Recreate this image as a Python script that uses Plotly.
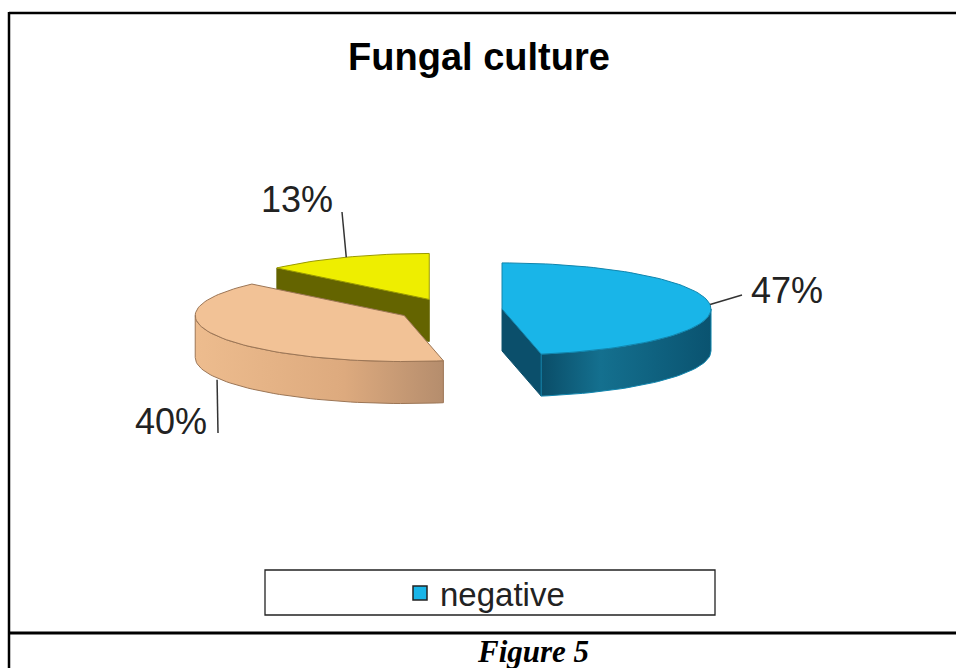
import numpy as np
import plotly.graph_objects as go

# ---- data ----
labels = ["negative", "Category 2", "Category 3"]
values = [47, 40, 13]
title_text = "Fungal culture"
caption_text = "Figure 5"

# ---- style ----
top_colors = ["#19B5E8", "#F2C296", "#EEEE00"]
edge_colors = ["#1185AD", "#9C7656", "#9A9A00"]
wall_scales = [
    [[0, "#0A4D68"], [0.35, "#14708F"], [1, "#0A5370"]],
    [[0, "#EDBC8E"], [0.6, "#DDAA7E"], [1, "#B58D6D"]],
    [[0, "#66660A"], [1, "#55550A"]],
]
cut_colors = ["#0B4F6B", "#C89A74", "#646400"]

W, H = 956, 668
CX, CY = 450, 310          # projected pie centre (px)
A, B = 209, 46             # ellipse semi-axes (px)
DEPTH = 42                 # slice thickness (px)
EXPLODE = 0.25
FONT = "Arial, Liberation Sans, sans-serif"

total = float(sum(values))
bounds = np.concatenate([[0], np.cumsum(values) / total * 360.0])


def pt(theta, off, dz=0.0):
    t = np.radians(theta)
    return (CX + off[0] + A * np.sin(t), CY + off[1] - B * np.cos(t) + dz)


def arc(t0, t1, off, dz=0.0, n=None):
    n = n or max(4, int(abs(t1 - t0) / 2) + 2)
    th = np.linspace(t0, t1, n)
    xs, ys = zip(*[pt(t, off, dz) for t in th])
    return list(xs), list(ys)


fig = go.Figure()

slices = []
for i, v in enumerate(values):
    s, e = bounds[i], bounds[i + 1]
    m = (s + e) / 2
    off = (EXPLODE * A * np.sin(np.radians(m)), -EXPLODE * B * np.cos(np.radians(m)))
    slices.append((i, s, e, m, off))

# paint from back to front
order = sorted(slices, key=lambda q: -np.cos(np.radians(q[3])))

for i, s, e, m, off in order:
    apex = (CX + off[0], CY + off[1])
    # cut faces
    for theta, normal in ((s, s - 90), (e, e + 90)):
        if np.cos(np.radians(normal)) < -0.05:
            rx, ry = pt(theta, off)
            xs = [apex[0], rx, rx, apex[0], apex[0]]
            ys = [apex[1], ry, ry + DEPTH, apex[1] + DEPTH, apex[1]]
            fig.add_trace(go.Scatter(x=xs, y=ys, mode="lines", fill="toself",
                                     fillcolor=cut_colors[i],
                                     line=dict(color=cut_colors[i], width=1),
                                     hoverinfo="skip", showlegend=False))
    # outer (front) wall
    w0, w1 = max(s, 90.0), min(e, 270.0)
    if w1 > w0:
        tx, ty = arc(w0, w1, off)
        bx, by = arc(w1, w0, off, DEPTH)
        fig.add_trace(go.Scatter(x=tx + bx + [tx[0]], y=ty + by + [ty[0]],
                                 mode="lines", fill="toself",
                                 fillgradient=dict(type="horizontal",
                                                   colorscale=wall_scales[i]),
                                 line=dict(color=edge_colors[i], width=1),
                                 hoverinfo="skip", showlegend=False))
    # top face
    ax_, ay_ = arc(s, e, off)
    fig.add_trace(go.Scatter(x=[apex[0]] + ax_ + [apex[0]],
                             y=[apex[1]] + ay_ + [apex[1]],
                             mode="lines", fill="toself",
                             fillcolor=top_colors[i],
                             line=dict(color=edge_colors[i], width=1),
                             hoverinfo="skip", showlegend=False,
                             name=labels[i]))

# legend entry (only the first category is shown, as in the original)
fig.add_trace(go.Scatter(x=[None], y=[None], mode="markers", name=labels[0],
                         marker=dict(symbol="square", size=14, color=top_colors[0],
                                     line=dict(color="#222222", width=1.5)),
                         showlegend=True))

# percentage labels with leader lines
label_pos = [(787, 290), (171, 421), (297, 199)]
leader_end = [(742, 295), (218, 433), (342, 212)]
annotations = []
for i, s, e, m, off in slices:
    rx, ry = pt(m, off)
    if np.cos(np.radians(m)) < -0.3:
        ry += DEPTH
        rx -= 4
    lx, ly = leader_end[i]
    fig.add_trace(go.Scatter(x=[rx, lx], y=[ry, ly], mode="lines",
                             line=dict(color="#333333", width=1.5),
                             hoverinfo="skip", showlegend=False))
    annotations.append(dict(x=label_pos[i][0], y=label_pos[i][1], xref="x", yref="y",
                            text=f"{values[i]}%", showarrow=False,
                            font=dict(family=FONT, size=36, color="#222222"),
                            xanchor="center", yanchor="middle"))

annotations.append(dict(x=533, y=651, xref="x", yref="y", text=f"<b><i>{caption_text}</i></b>",
                        showarrow=False, xanchor="center", yanchor="middle",
                        font=dict(family="Times New Roman, Liberation Serif, serif",
                                  size=31, color="#000000")))

shapes = [
    dict(type="line", xref="x", yref="y", x0=9, y0=13, x1=W + 5, y1=13,
         line=dict(color="black", width=2.5)),
    dict(type="line", xref="x", yref="y", x0=9, y0=12, x1=9, y1=H + 5,
         line=dict(color="black", width=2.5)),
    dict(type="line", xref="x", yref="y", x0=9, y0=633, x1=W + 5, y1=633,
         line=dict(color="black", width=3)),
    dict(type="rect", xref="x", yref="y", x0=265, y0=570, x1=715, y1=615,
         line=dict(color="#222222", width=1.3), fillcolor="rgba(0,0,0,0)"),
]

fig.update_layout(
    width=W, height=H,
    margin=dict(l=0, r=0, t=0, b=0, pad=0),
    paper_bgcolor="white", plot_bgcolor="white",
    xaxis=dict(range=[0, W], visible=False, fixedrange=True),
    yaxis=dict(range=[H, 0], visible=False, fixedrange=True),
    title=dict(text=f"<b>{title_text}</b>", x=479 / W, xanchor="center",
               y=1 - 57 / H, yanchor="middle", yref="paper",
               font=dict(family=FONT, size=38, color="#000000")),
    showlegend=True,
    legend=dict(x=400 / W, xanchor="left", y=1 - 593 / H, yanchor="middle",
                bgcolor="rgba(0,0,0,0)", borderwidth=0,
                font=dict(family=FONT, size=33, color="#222222")),
    annotations=annotations,
    shapes=shapes,
)

fig.write_html("out.html")
